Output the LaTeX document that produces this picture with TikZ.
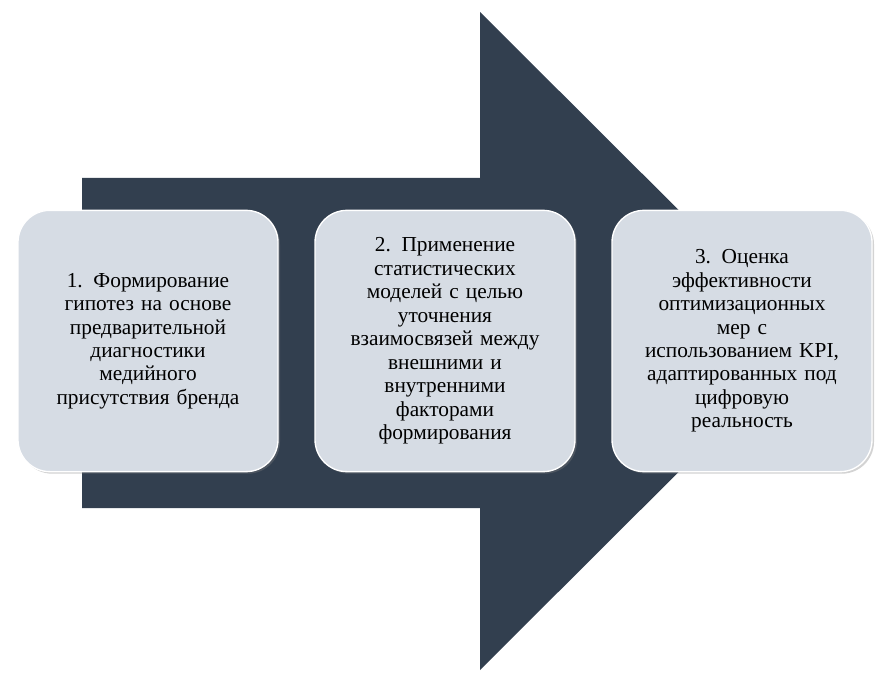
\documentclass[tikz,border=0pt]{standalone}
\usepackage{fontspec}
\setmainfont{Liberation Serif}
\usetikzlibrary{positioning,shadows}
\definecolor{arrowblue}{HTML}{323F4F}
\definecolor{boxfill}{HTML}{D6DCE4}

\begin{document}
\begin{tikzpicture}[
    x=0.75pt, y=-0.75pt,
    % box style for the three steps
    stepbox/.style={
        rounded corners=24pt,
        fill=boxfill,
        draw=white, line width=1pt,
        minimum width=195pt,
        minimum height=196pt,
        text width=180pt,
        align=center,
        font=\fontsize{16}{17.6}\selectfont,
        drop shadow={shadow xshift=1.5pt, shadow yshift=-1.5pt, opacity=0.35}
    }
]
    \useasboundingbox (0,0) rectangle (892,688);
    % Big arrow
    \fill[arrowblue] (82,178) -- (480,178) -- (480,12) -- (810,341)
        -- (480,670) -- (480,508) -- (82,508) -- cycle;

    % Steps
    \node[stepbox] (hyp) at (148,341) {1. Формирование\\гипотез на основе\\предварительной\\диагностики\\медийного\\присутствия бренда};
    \node[stepbox] (model) at (445,341) {2. Применение\\статистических\\моделей с целью\\уточнения\\взаимосвязей между\\внешними и\\внутренними\\факторами\\формирования};
    \node[stepbox] (kpi) at (742,341) {3. Оценка\\эффективности\\оптимизационных\\мер с\\использованием KPI,\\адаптированных под\\цифровую\\реальность};
\end{tikzpicture}
\end{document}
